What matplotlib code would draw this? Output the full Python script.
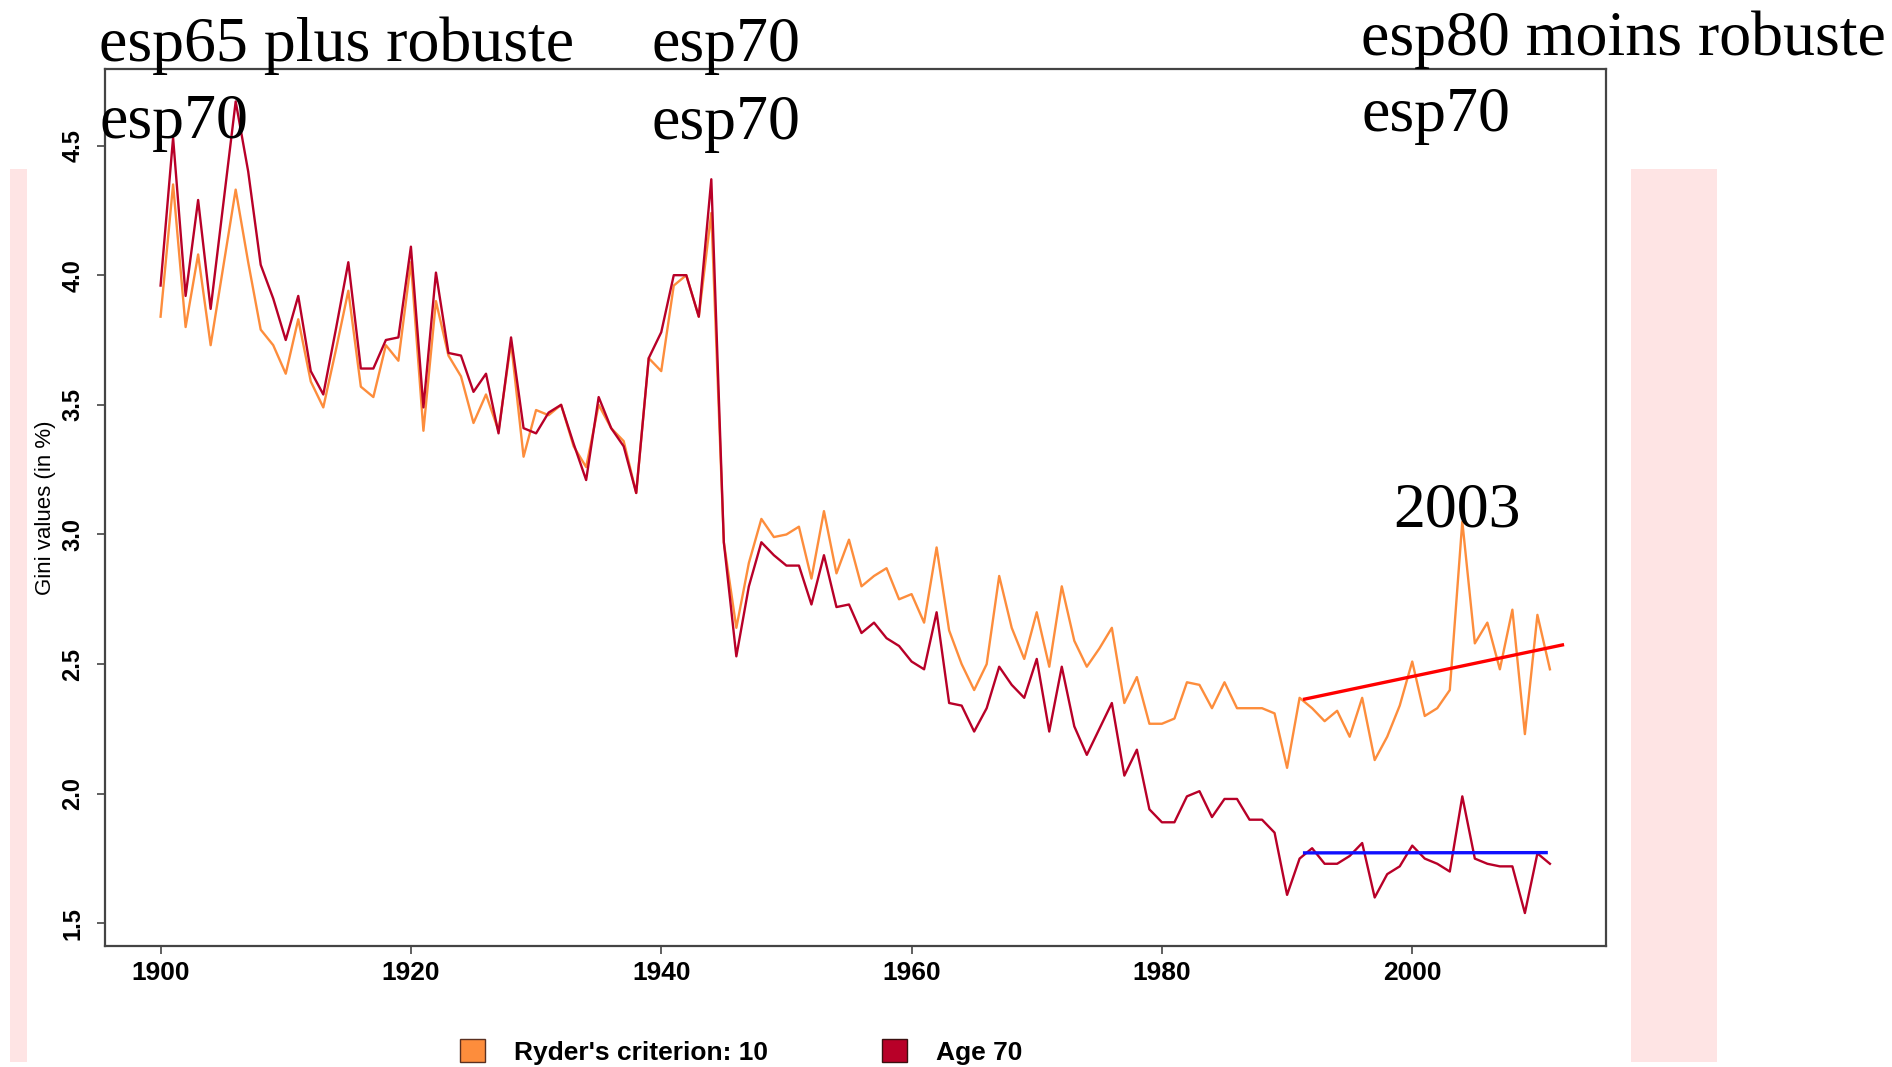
import numpy as np
import matplotlib
matplotlib.use('Agg')
import matplotlib.pyplot as plt
from matplotlib.patches import Rectangle, Patch

# data (1900-2011)
years = np.arange(1900, 2012)

ryder_10 = [
    3.84, 4.35, 3.80, 4.08, 3.73, 4.03, 4.33, 4.05, 3.79, 3.73,
    3.62, 3.83, 3.59, 3.49, 3.71, 3.94, 3.57, 3.53, 3.73, 3.67,
    4.05, 3.40, 3.90, 3.69, 3.61, 3.43, 3.54, 3.40, 3.74, 3.30,
    3.48, 3.46, 3.50, 3.34, 3.26, 3.50, 3.41, 3.36, 3.16, 3.68,
    3.63, 3.96, 4.00, 3.84, 4.24, 2.97, 2.64, 2.89, 3.06, 2.99,
    3.00, 3.03, 2.83, 3.09, 2.85, 2.98, 2.80, 2.84, 2.87, 2.75,
    2.77, 2.66, 2.95, 2.63, 2.50, 2.40, 2.50, 2.84, 2.64, 2.52,
    2.70, 2.49, 2.80, 2.59, 2.49, 2.56, 2.64, 2.35, 2.45, 2.27,
    2.27, 2.29, 2.43, 2.42, 2.33, 2.43, 2.33, 2.33, 2.33, 2.31,
    2.10, 2.37, 2.33, 2.28, 2.32, 2.22, 2.37, 2.13, 2.22, 2.34,
    2.51, 2.30, 2.33, 2.40, 3.05, 2.58, 2.66, 2.48, 2.71, 2.23,
    2.69, 2.48,
]

age_70 = [
    3.96, 4.53, 3.92, 4.29, 3.87, 4.27, 4.67, 4.40, 4.04, 3.91,
    3.75, 3.92, 3.63, 3.54, 3.79, 4.05, 3.64, 3.64, 3.75, 3.76,
    4.11, 3.49, 4.01, 3.70, 3.69, 3.55, 3.62, 3.39, 3.76, 3.41,
    3.39, 3.47, 3.50, 3.35, 3.21, 3.53, 3.41, 3.34, 3.16, 3.68,
    3.78, 4.00, 4.00, 3.84, 4.37, 2.97, 2.53, 2.80, 2.97, 2.92,
    2.88, 2.88, 2.73, 2.92, 2.72, 2.73, 2.62, 2.66, 2.60, 2.57,
    2.51, 2.48, 2.70, 2.35, 2.34, 2.24, 2.33, 2.49, 2.42, 2.37,
    2.52, 2.24, 2.49, 2.26, 2.15, 2.25, 2.35, 2.07, 2.17, 1.94,
    1.89, 1.89, 1.99, 2.01, 1.91, 1.98, 1.98, 1.90, 1.90, 1.85,
    1.61, 1.75, 1.79, 1.73, 1.73, 1.76, 1.81, 1.60, 1.69, 1.72,
    1.80, 1.75, 1.73, 1.70, 1.99, 1.75, 1.73, 1.72, 1.72, 1.54,
    1.77, 1.73,
]

# hand-drawn trend segments (start/end year, start/end value)
red_trend_x = [1991.4, 2012.0]
red_trend_y = [2.365, 2.574]
blue_trend_x = [1991.4, 2010.7]
blue_trend_y = [1.772, 1.773]

series_labels = ["Ryder's criterion: 10", "Age 70"]
xticks = [1900, 1920, 1940, 1960, 1980, 2000]
yticks = [1.5, 2.0, 2.5, 3.0, 3.5, 4.0, 4.5]

ORANGE = '#FD8D3C'
DARKRED = '#B80028'

W, H = 1892, 1067
narrow = ['Liberation Sans Narrow', 'Liberation Sans', 'DejaVu Sans']
serif = ['Liberation Serif', 'DejaVu Serif']


def fx(x):
    return x / W


def fy(y):
    return 1 - y / H


fig = plt.figure(figsize=(W / 100, H / 100), dpi=100)

# pale pink side bands
for x0, x1 in [(10, 27), (1631, 1717)]:
    fig.patches.append(Rectangle((fx(x0), fy(1062)), (x1 - x0) / W, (1062 - 169) / H,
                                 transform=fig.transFigure, facecolor='#FEE4E4',
                                 edgecolor='none', zorder=0))

ax = fig.add_axes([fx(105), fy(945.5), (1605.5 - 105) / W, (945.5 - 69) / H])
ax.plot(years, ryder_10, color=ORANGE, lw=1.7, zorder=3)
ax.plot(years, age_70, color=DARKRED, lw=1.7, zorder=4)
ax.plot(red_trend_x, red_trend_y, color='#FF0000', lw=2.4, zorder=5)
ax.plot(blue_trend_x, blue_trend_y, color='#1010FF', lw=2.4, zorder=5)

# R-style limits (4% padding)
span_x = years[-1] - years[0]
ax.set_xlim(years[0] - 0.04 * span_x, years[-1] + 0.04 * span_x)
lo, hi = min(age_70), max(age_70)
ax.set_ylim(lo - 0.04 * (hi - lo), hi + 0.04 * (hi - lo))

ax.set_xticks(xticks)
ax.set_yticks(yticks)
ax.set_xticklabels([str(t) for t in xticks], family=narrow, fontweight='bold', fontsize=19)
ax.set_yticklabels([f'{t:.1f}' for t in yticks], family=['Liberation Sans', 'DejaVu Sans'],
                   fontweight='bold', fontsize=17, rotation=90, va='center')
ax.tick_params(axis='x', direction='out', length=6, width=1.2, color='#444444', pad=5)
ax.tick_params(axis='y', direction='out', length=6, width=1.2, color='#444444', pad=9)
for sp in ax.spines.values():
    sp.set_color('#444444')
    sp.set_linewidth(1.6)

ax.set_ylabel('Gini values (in %)', family=narrow, fontsize=16)
ax.yaxis.set_label_coords((46 - 105) / 1500.5, 0.5)
ax.yaxis.label.set_va('center')

# legend below the plot
handles = [Patch(facecolor=ORANGE, edgecolor='#5a3020', lw=1.0),
           Patch(facecolor=DARKRED, edgecolor='#3a1010', lw=1.0)]
fig.legend(handles, series_labels, loc='center', bbox_to_anchor=(fx(741), fy(1052)),
           ncol=2, frameon=False, prop={'family': narrow, 'weight': 'bold', 'size': 19},
           handlelength=0.95, handleheight=0.95, handletextpad=1.1, columnspacing=4.3,
           borderpad=0)

# overlaid annotations
notes = [
    ('esp65 plus robuste', 99, 61),
    ('esp70', 99, 138),
    ('esp70', 651, 61),
    ('esp70', 651, 139),
    ('esp80 moins robuste', 1361, 55),
    ('esp70', 1361, 131),
    ('2003', 1393, 527),
]
for txt, x, y in notes:
    fig.text(fx(x), fy(y), txt, family=serif, fontsize=46, color='black',
             ha='left', va='baseline', zorder=10)

fig.savefig('out.png', dpi=100)
